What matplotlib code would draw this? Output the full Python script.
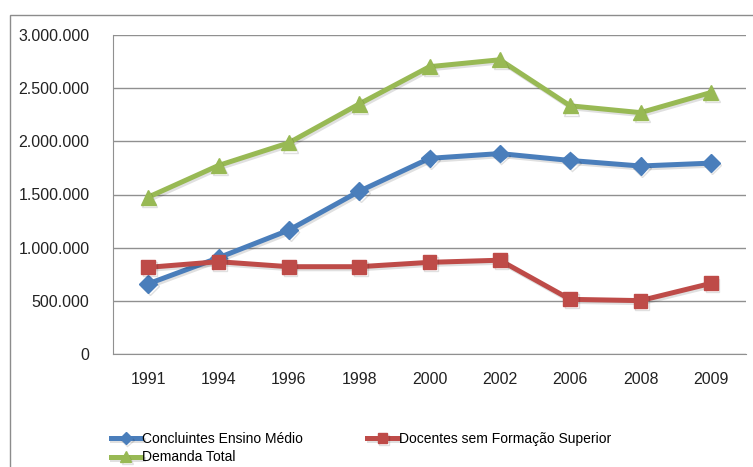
import numpy as np
import matplotlib.pyplot as plt
import matplotlib.patheffects as pe
from matplotlib.patches import Rectangle
from matplotlib.ticker import FuncFormatter

plt.rcParams['font.family'] = ['Liberation Sans', 'DejaVu Sans']

anos = ['1991', '1994', '1996', '1998', '2000', '2002', '2006', '2008', '2009']
concluintes = [660000, 905000, 1165000, 1530000, 1840000, 1885000, 1820000, 1768000, 1795000]
docentes = [815000, 868000, 821000, 821000, 862000, 882000, 514000, 502000, 664000]
demanda = [1475000, 1773000, 1986000, 2351000, 2702000, 2767000, 2334000, 2270000, 2459000]

fig = plt.figure(figsize=(7.53, 4.67), dpi=100)
ax = fig.add_axes([113/753, 1 - 354/467, (746 - 113)/753, (354 - 35)/467])

# moldura externa do grafico
fig.patches.append(Rectangle((10/753, -0.1), 1.2, 1.1 - 15/467,
                             transform=fig.transFigure, fill=False,
                             edgecolor='#8c8c8c', linewidth=1.0))

x = np.arange(len(anos))
sombra = [pe.SimpleLineShadow(offset=(1.2, -1.5), alpha=0.12), pe.Normal()]

l1, = ax.plot(x, concluintes, color='#4a7ebb', lw=3.6, marker='D', markersize=9,
              label='Concluintes Ensino Médio', path_effects=sombra, zorder=3)
l2, = ax.plot(x, docentes, color='#be4b48', lw=3.6, marker='s', markersize=10,
              label='Docentes sem Formação Superior', path_effects=sombra, zorder=3)
l3, = ax.plot(x, demanda, color='#98b954', lw=3.6, marker='^', markersize=11,
              label='Demanda Total', path_effects=sombra, zorder=3)

ax.set_xlim(-0.5, len(anos) - 0.5)
ax.set_ylim(0, 3000000)
ax.set_yticks(np.arange(0, 3000001, 500000))
ax.yaxis.set_major_formatter(FuncFormatter(lambda v, p: '{:,.0f}'.format(v).replace(',', '.')))
ax.set_xticks(x)
ax.set_xticklabels(anos)
ax.tick_params(length=0, labelsize=11.5, colors='#222222')
ax.tick_params(axis='y', pad=17)
ax.tick_params(axis='x', pad=13)

ax.grid(axis='y', color='#909090', linewidth=1.0)
ax.set_axisbelow(True)
for s in ['top', 'right']:
    ax.spines[s].set_visible(False)
ax.spines['left'].set_color('#909090')
ax.spines['bottom'].set_color('#909090')

# legenda em duas colunas, preenchida por linha
fig.legend([l1, l3, l2], [l1.get_label(), l3.get_label(), l2.get_label()],
           ncol=2, loc='upper left', bbox_to_anchor=(105/753, 1 - 426/467),
           frameon=False, fontsize=10, handlelength=2.2, handletextpad=0.1,
           columnspacing=4.6, labelspacing=0.35, markerscale=0.7,
           borderaxespad=0)

fig.savefig('out.png', dpi=100)
